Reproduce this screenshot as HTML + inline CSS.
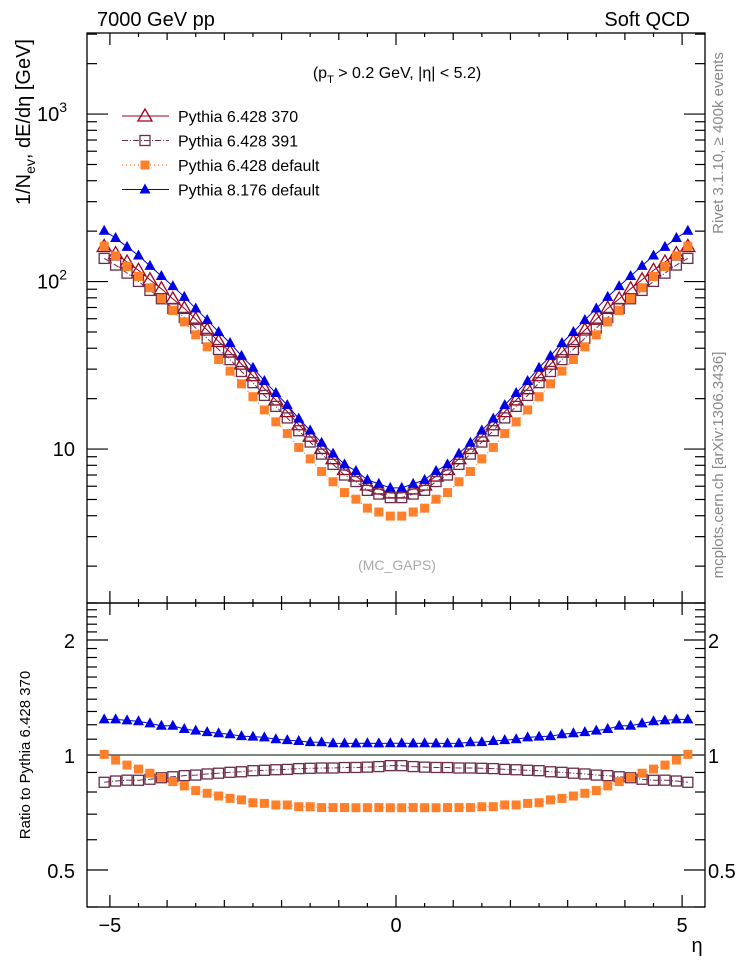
<!DOCTYPE html>
<html><head><meta charset="utf-8"><style>
html,body{margin:0;padding:0;background:#fff;}
svg{display:block;font-family:"Liberation Sans",sans-serif;}
</style></head><body>
<svg id="chart" width="746" height="972" viewBox="0 0 746 972" xmlns="http://www.w3.org/2000/svg">
<g id="axes"></g><g id="marks"></g>
<text x="97" y="26" font-size="20">7000 GeV pp</text>
<text x="690" y="26" font-size="20" text-anchor="end">Soft QCD</text>
<text x="397" y="78" font-size="16" text-anchor="middle">(p<tspan font-size="11" dy="5">T</tspan><tspan dy="-5"> &gt; 0.2 GeV, |η| &lt; 5.2)</tspan></text>
<text x="397" y="570" font-size="14" fill="#aaa" text-anchor="middle">(MC_GAPS)</text>
<text transform="translate(30,122) rotate(-90)" font-size="20" text-anchor="middle">1/N<tspan font-size="14" dy="5">ev</tspan><tspan dy="-5">, dE/dη [GeV]</tspan></text>
<text transform="translate(30,755) rotate(-90)" font-size="15" text-anchor="middle">Ratio to Pythia 6.428 370</text>
<text transform="translate(723,143) rotate(-90)" font-size="15" fill="#888" text-anchor="middle">Rivet 3.1.10, ≥ 400k events</text>
<text transform="translate(723,465) rotate(-90)" font-size="15" fill="#888" text-anchor="middle">mcplots.cern.ch [arXiv:1306.3436]</text>
<text x="697" y="952" font-size="20" text-anchor="middle">η</text>
<g id="legend"></g>
</svg>
<script>
const etaCenters=[-5.1,-4.9,-4.7,-4.5,-4.3,-4.1,-3.9,-3.7,-3.5,-3.3,-3.1,-2.9,-2.7,-2.5,-2.3,-2.1,-1.9,-1.7,-1.5,-1.3,-1.1,-0.9,-0.7,-0.5,-0.3,-0.1,0.1,0.3,0.5,0.7,0.9,1.1,1.3,1.5,1.7,1.9,2.1,2.3,2.5,2.7,2.9,3.1,3.3,3.5,3.7,3.9,4.1,4.3,4.5,4.7,4.9,5.1];
const p370=[162.1,146.8,130.7,116.7,102.5,90.53,78.79,69.23,59.59,51.39,43.86,37.95,32.14,27.39,22.93,19.65,16.73,13.97,11.94,10.09,8.76,7.55,6.90,6.10,5.78,5.47,5.47,5.78,6.10,6.90,7.55,8.76,10.09,11.94,13.97,16.73,19.65,22.93,27.39,32.14,37.95,43.86,51.39,59.59,69.23,78.79,90.53,102.5,116.7,130.7,146.8,162.1];
const p391=[137.5,125.5,112.3,100.2,88.56,78.94,69.10,61.13,52.80,45.84,39.30,34.19,29.05,24.92,20.91,17.98,15.34,12.87,11.02,9.33,8.10,7.00,6.40,5.67,5.39,5.13,5.13,5.39,5.67,6.40,7.00,8.10,9.33,11.02,12.87,15.34,17.98,20.91,24.92,29.05,34.19,39.30,45.84,52.80,61.13,69.10,78.94,88.56,100.2,112.3,125.5,137.5];
const pDef=[162.7,142.4,123.0,107.2,91.84,79.12,67.13,57.46,48.09,40.80,34.25,29.22,24.52,20.54,17.13,14.54,12.38,10.23,8.74,7.35,6.38,5.50,5.02,4.44,4.21,3.98,3.98,4.21,4.44,5.02,5.50,6.38,7.35,8.74,10.23,12.38,14.54,17.13,20.54,24.52,29.22,34.25,40.80,48.09,57.46,67.13,79.12,91.84,107.2,123.0,142.4,162.7];
const p8=[201,182,161,143,124,108,94,81,69,59,50,43,36,30.6,25.5,21.6,18.3,15.2,12.9,10.9,9.4,8.1,7.4,6.55,6.2,5.87,5.87,6.2,6.55,7.4,8.1,9.4,10.9,12.9,15.2,18.3,21.6,25.5,30.6,36,43,50,59,69,81,94,108,124,143,161,182,201];
const seriesNames=["Pythia 6.428 370","Pythia 6.428 391","Pythia 6.428 default","Pythia 8.176 default"];
const xTickLabels=["−5","0","5"];
const xTickValues=[-5,0,5];

const NS="http://www.w3.org/2000/svg";
const L=87,R=705,T=33,MB=603,RB=907;
const XMIN=-5.4,XMAX=5.4,YLMIN=0.081,YLMAX=3.484;
const RMIN=Math.log2(0.4),RMAX=Math.log2(2.5);
const xS=v=>L+(v-XMIN)/(XMAX-XMIN)*(R-L);
const yS=v=>T+(YLMAX-Math.log10(v))/(YLMAX-YLMIN)*(MB-T);
const rS=v=>MB+(RMAX-Math.log2(v))/(RMAX-RMIN)*(RB-MB);
function mk(tag,attrs,parent){const e=document.createElementNS(NS,tag);for(const k in attrs)e.setAttribute(k,attrs[k]);parent.appendChild(e);return e;}
const axes=document.getElementById('axes'),marks=document.getElementById('marks'),leg=document.getElementById('legend');

let f=mk('rect',{x:L,y:T,width:R-L,height:MB-T,fill:'none',stroke:'#000','stroke-width':1.3},axes);

f=mk('rect',{x:L,y:MB,width:R-L,height:RB-MB,fill:'none',stroke:'#000','stroke-width':1.3},axes);


for(let i=-10;i<=10;i++){const v=i/2;const x=xS(v);
 const len=(v%5===0)?12:(Number.isInteger(v)?7:4);
 [[T,1],[MB,-1],[MB,1],[RB,-1]].forEach(([y0,d])=>{const t=mk('line',{x1:x,x2:x,y1:y0,y2:y0+d*len,stroke:'#000','stroke-width':1.2},axes);
 });}
xTickValues.forEach((v,i)=>{const t=mk('text',{x:xS(v),y:932,'font-size':20,'text-anchor':'middle'},axes);t.textContent=xTickLabels[i];
 });

for(let d=0;d<=3;d++)for(let m=1;m<=9;m++){const v=m*Math.pow(10,d);const lv=Math.log10(v);if(lv<YLMIN||lv>YLMAX)continue;
 const y=yS(v),len=m===1?21:10;
 [[L,1],[R,-1]].forEach(([x0,dd])=>{const t=mk('line',{x1:x0,x2:x0+dd*len,y1:y,y2:y,stroke:'#000','stroke-width':1.2},axes);
 });}
[[10,'10',''],[100,'10','2'],[1000,'10','3']].forEach(([v,b,e])=>{const t=mk('text',{x:75,y:yS(v)+7,'font-size':20,'text-anchor':'end'},axes);
 
 t.textContent=b;if(e){t.setAttribute('x',67);const s=mk('tspan',{'font-size':14,dy:-9},t);s.textContent=e;}});

for(let k=4;k<=25;k++){const v=k/10;if(v<0.4||v>2.5)continue;const y=rS(v);const maj=(k===5||k===10||k===20);const len=maj?21:10;
 [[L,1],[R,-1]].forEach(([x0,dd])=>{const t=mk('line',{x1:x0,x2:x0+dd*len,y1:y,y2:y,stroke:'#000','stroke-width':1.2},axes);
 });}
[[0.5,'0.5'],[1,'1'],[2,'2']].forEach(([v,s])=>{[[75,'end'],[708,'start']].forEach(([x,a])=>{const t=mk('text',{x:x,y:rS(v)+8,'font-size':20,'text-anchor':a},axes);t.textContent=s;
 });});
let rl=mk('line',{x1:L,x2:R,y1:rS(1),y2:rS(1),stroke:'#2f3f2f','stroke-width':1.2},axes);


const styles=[
 {c:'#a0001a',dash:'',marker:'otri',sw:1},
 {c:'#6b2c4a',dash:'6,2,1,2',marker:'osq',sw:1},
 {c:'#ff7f2a',dash:'1,3',marker:'fsq',sw:1.2},
 {c:'#0000e6',dash:'',marker:'ftri',sw:1}];
function marker(type,x,y,c,parent,name){let e;
 if(type==='otri')e=mk('polygon',{points:`${x},${y-7} ${x-7},${y+5} ${x+7},${y+5}`,fill:'none',stroke:c,'stroke-width':1.3},parent);
 else if(type==='ftri')e=mk('polygon',{points:`${x},${y-6} ${x-5.5},${y+4} ${x+5.5},${y+4}`,fill:c},parent);
 else if(type==='osq')e=mk('rect',{x:x-5,y:y-5,width:10,height:10,fill:'none',stroke:c,'stroke-width':1.3},parent);
 else e=mk('rect',{x:x-4.5,y:y-4.5,width:9,height:9,fill:c},parent);
 return e;}
const allSeries=[p370,p391,pDef,p8];
const slugs=['pythia6-370','pythia6-391','pythia6-default','pythia8-default'];
allSeries.forEach((s,si)=>{const st=styles[si];
 const g=mk('g',{},marks);
 const pts=etaCenters.map((e,i)=>xS(e)+','+yS(s[i])).join(' ');
 const pl=mk('polyline',{points:pts,fill:'none',stroke:st.c,'stroke-width':st.sw,'stroke-dasharray':st.dash},g);
 
 etaCenters.forEach((e,i)=>marker(st.marker,xS(e),yS(s[i]),st.c,g,slugs[si]+'-point'));
 if(si>0){const rg=mk('g',{},marks);
  const rp=etaCenters.map((e,i)=>xS(e)+','+rS(s[i]/p370[i])).join(' ');
  const rpl=mk('polyline',{points:rp,fill:'none',stroke:st.c,'stroke-width':st.sw,'stroke-dasharray':st.dash},rg);
  
  etaCenters.forEach((e,i)=>marker(st.marker,xS(e),rS(s[i]/p370[i]),st.c,rg,slugs[si]+'-ratio-point'));}
 const ly=116+si*24.5;
 const lg=mk('g',{},leg);
 const ll=mk('line',{x1:122,x2:169,y1:ly,y2:ly,stroke:st.c,'stroke-width':st.sw,'stroke-dasharray':st.dash},lg);
 
 marker(st.marker,145,ly,st.c,lg,'legend-marker');
 const lt=mk('text',{x:178,y:ly+6,'font-size':16},lg);lt.textContent=seriesNames[si];
 
});
</script>
</body></html>
